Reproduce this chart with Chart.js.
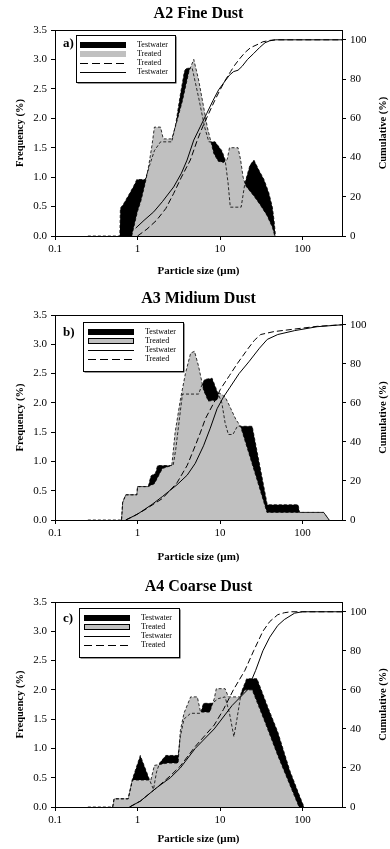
<!DOCTYPE html>
<html>
<head>
<meta charset="utf-8">
<script src="https://cdn.jsdelivr.net/npm/chart.js@4.4.1/dist/chart.umd.min.js"></script>
<style>
  body { margin: 0; background: #fff; }
  .panel { position: absolute; left: 0; width: 390px; }
</style>
</head>
<body>
<div class="panel" style="top:0;height:285px"><canvas id="chartA" width="390" height="285"></canvas></div>
<div class="panel" style="top:285px;height:287px"><canvas id="chartB" width="390" height="287"></canvas></div>
<div class="panel" style="top:572px;height:277px"><canvas id="chartC" width="390" height="277"></canvas></div>
<script>
// tick values
const sizeTicks = [0.1, 1, 10, 100];
const freqTicks = [0, 0.5, 1, 1.5, 2, 2.5, 3, 3.5];
const cumTicks = [0, 20, 40, 60, 80, 100];

// A2 fine dust  [particle size (µm), %]
const a2FreqTestwater = [[0.25,0],[0.61,0],[0.62,0.47],[0.68,0.55],[0.8,0.72],[0.9,0.85],[0.98,0.96],[1.24,0.96],[1.4,1.2],[1.6,1.45],[1.9,1.6],[2.6,1.6],[2.9,1.9],[3.3,2.4],[3.7,2.8],[3.9,2.85],[4.6,2.85],[5.5,2.35],[6.5,1.85],[7.3,1.6],[8.7,1.6],[10.5,1.45],[11.5,1.3],[12.5,0.9],[13.3,0.49],[18,0.49],[20,0.9],[23,1.2],[25.7,1.29],[29.5,1.12],[34,0.96],[39,0.73],[43,0.49],[45,0.27],[47,0]];
const a2FreqTreated = [[0.85,0],[0.9,0.15],[1.0,0.42],[1.1,0.6],[1.24,0.9],[1.35,1.15],[1.5,1.55],[1.6,1.85],[1.9,1.85],[2.05,1.65],[2.6,1.65],[3.0,1.95],[3.5,2.3],[4.2,2.8],[4.8,3.0],[5.5,2.65],[6.3,2.2],[7.0,1.85],[8.4,1.4],[9.5,1.27],[11,1.25],[12.2,1.3],[13,1.5],[16.5,1.5],[17.7,1.3],[19,1.0],[20.5,0.85],[25.7,0.68],[31,0.52],[37,0.35],[43,0.15],[46,0]];
const a2CumTestwater = [[0.95,4],[1.2,8],[1.57,12.3],[2,17.5],[2.74,25],[3.4,32],[3.98,38.7],[4.8,48.9],[5.8,56],[6.9,62.5],[8.2,69],[9.6,74.5],[11.5,79],[13,82],[14.6,83.8],[16.5,84.5],[18.5,86.5],[21.5,90],[25.5,93],[30,96],[35,98.5],[40,99.5],[47,100],[300,100]];
const a2CumTreated = [[1.0,0],[1.3,3.5],[1.7,8],[2.2,14],[2.74,21.7],[3.4,30],[4.36,38.7],[5.3,48.9],[6.2,56],[7.3,62.5],[8.6,69],[10,74.5],[11.6,79.5],[13.4,83.8],[15,87],[17,90],[20,93.5],[23.4,96],[28,97.5],[33,99],[40,99.7],[47,100],[300,100]];

// A3 medium dust
const a3FreqTestwater = [[0.25,0],[0.64,0],[0.66,0.3],[0.72,0.43],[0.98,0.43],[1.0,0.57],[1.35,0.57],[1.45,0.75],[1.65,0.8],[1.75,0.93],[2.7,0.93],[2.9,1.2],[3.2,1.7],[3.5,2.15],[5.5,2.15],[6.0,2.3],[6.5,2.4],[8,2.42],[9.2,2.2],[10.5,2.0],[11.5,1.66],[12.6,1.46],[14.3,1.46],[16.2,1.6],[24.5,1.6],[29.6,1.0],[37.3,0.26],[88,0.26],[92,0.13],[180,0.13],[210,0]];
const a3FreqTreated = [[0.64,0],[0.66,0.3],[0.72,0.43],[0.98,0.43],[1.0,0.57],[1.35,0.57],[1.6,0.62],[2.0,0.88],[2.6,0.93],[2.85,1.49],[3.3,2.05],[3.8,2.5],[4.4,2.85],[4.9,2.88],[5.5,2.62],[6.3,2.22],[7.2,2.03],[9.2,2.05],[9.8,2.17],[11.5,2.1],[12.5,2.0],[13.5,1.9],[15.5,1.72],[17.7,1.6],[22,1.17],[28,0.69],[37,0.13],[180,0.13],[210,0]];
const a3CumTestwater = [[0.72,0],[1.0,3],[1.5,8],[2,12],[3,18],[4,23],[5,29],[6.3,38],[7.6,47],[9.2,57],[11,63],[13.2,68],[17,75],[22.3,81],[30,88],[37.3,92.5],[50,95],[80,97],[150,99],[300,100]];
const a3CumTreated = [[0.72,0],[0.9,2],[1.2,5],[2,11],[3,19],[4,28],[5,38],[5.8,45],[6.66,52],[8.4,60],[10.1,67],[13,74],[16.1,80],[22,88],[26,92],[31,95],[45,96.5],[80,97.8],[150,99.2],[300,100]];

// A4 coarse dust
const a4FreqTestwater = [[0.25,0],[0.5,0],[0.52,0.14],[0.77,0.14],[0.86,0.46],[1.08,0.88],[1.4,0.46],[1.56,0.3],[1.7,0.6],[1.85,0.75],[2.2,0.88],[3.1,0.88],[3.3,1.2],[3.65,1.5],[4.4,1.6],[5.8,1.6],[6.3,1.77],[8,1.77],[9.5,1.85],[11.5,1.88],[13,1.6],[14.7,1.2],[16,1.5],[18,1.95],[21,2.19],[28,2.19],[38,1.7],[50,1.28],[70,0.62],[90,0.22],[104,0]];
const a4FreqTreated = [[0.5,0],[0.52,0.14],[0.77,0.14],[0.87,0.46],[1.45,0.46],[1.6,0.71],[2.3,0.75],[3.1,0.75],[3.3,1.3],[3.65,1.6],[4.4,1.88],[5.3,1.88],[5.8,1.62],[7.5,1.62],[8.5,1.85],[9,2.02],[11.5,2.02],[12.6,1.88],[17.7,1.88],[20,2.0],[24.5,2.0],[35,1.45],[50,0.88],[70,0.38],[90.5,0]];
const a4CumTestwater = [[0.8,0],[1.08,3],[1.72,10],[2.5,15],[3.3,20],[5,30],[8.5,40],[14,52],[21.5,60],[27,70],[33,80],[40,87],[50,93],[60,96],[80,99.3],[100,100],[300,100]];
const a4CumTreated = [[0.8,0],[1.08,3],[1.72,10],[2.5,16],[3.3,21],[5,31],[8.5,42],[11,50],[14.5,60],[20,70],[25.5,80],[33,90],[40,95],[50,98.5],[60,99.5],[72,100],[300,100]];

const SERIF = "'Liberation Serif', 'Times New Roman', serif";
const GRAY = "#c0c0c0";

const pts = (arr) => arr.map(([x, y]) => ({ x, y }));

// titles, labels and legend boxes drawn on top of the chart
const decor = {
  id: "decor",
  afterDraw(chart, args, o) {
    const { ctx, chartArea: a } = chart;
    ctx.save();
    ctx.strokeStyle = "#000";
    ctx.lineWidth = 1;
    // top frame line
    const ty = Math.round(a.top) + 0.5;
    ctx.beginPath();
    ctx.moveTo(a.left, ty);
    ctx.lineTo(a.right, ty);
    ctx.stroke();

    ctx.fillStyle = "#000";
    ctx.textAlign = "center";
    ctx.textBaseline = "middle";
    ctx.font = `bold 16px ${SERIF}`;
    ctx.fillText(o.title, (a.left + a.right) / 2, o.titleY);

    ctx.font = `bold 11px ${SERIF}`;
    ctx.fillText("Particle size (µm)", (a.left + a.right) / 2, a.bottom + o.xTitleGap);

    ctx.font = `bold 10.5px ${SERIF}`;
    const midY = (a.top + a.bottom) / 2;
    ctx.save();
    ctx.translate(20, midY);
    ctx.rotate(-Math.PI / 2);
    ctx.fillText("Frequency (%)", 0, 0);
    ctx.restore();
    ctx.save();
    ctx.translate(383, midY);
    ctx.rotate(-Math.PI / 2);
    ctx.fillText("Cumulative (%)", 0, 0);
    ctx.restore();

    // panel letter
    ctx.textAlign = "left";
    ctx.font = `bold 13px ${SERIF}`;
    ctx.fillText(o.letter, 63, o.letterY);

    // legend
    const lg = o.legend;
    ctx.fillStyle = "#333";
    ctx.fillRect(lg.x + 1.5, lg.y + 1.5, lg.w, lg.h);
    ctx.fillStyle = "#fff";
    ctx.fillRect(lg.x, lg.y, lg.w, lg.h);
    ctx.strokeRect(lg.x + 0.5, lg.y + 0.5, lg.w, lg.h);
    ctx.font = `8px ${SERIF}`;
    lg.items.forEach((it, i) => {
      const y = lg.y + 10 + i * 9;
      const sx = lg.x + lg.sx, sw = 46;
      if (it.kind === "fill") {
        ctx.fillStyle = it.color;
        ctx.fillRect(sx, y - 3, sw, 6);
        if (it.edge) {
          ctx.strokeStyle = "#000";
          ctx.strokeRect(sx + 0.5, y - 2.5, sw - 1, 5);
        }
      } else {
        ctx.strokeStyle = "#000";
        ctx.setLineDash(it.kind === "dash" ? [8, 4] : []);
        ctx.beginPath();
        ctx.moveTo(sx, y + 0.5);
        ctx.lineTo(sx + sw, y + 0.5);
        ctx.stroke();
        ctx.setLineDash([]);
      }
      ctx.fillStyle = "#000";
      ctx.fillText(it.text, lg.x + lg.tx, y);
    });
    ctx.restore();
  },
};

function makeChart(id, p) {
  const tickFont = { family: SERIF, size: 11 };
  const axisGrid = { drawOnChartArea: false, drawTicks: true, tickLength: 4, color: "#000" };
  const axisBorder = { display: true, color: "#000", width: 1 };
  return new Chart(document.getElementById(id), {
    type: "line",
    data: {
      datasets: [
        { label: "Testwater", data: pts(p.freqTest), yAxisID: "y", fill: "origin",
          backgroundColor: "#000", borderWidth: 0, pointRadius: 0, order: 5 },
        { label: "Treated", data: pts(p.freqTreat), yAxisID: "y", fill: "origin",
          backgroundColor: GRAY, borderColor: "#000", borderWidth: 0.8, borderDash: [3, 2],
          pointRadius: 0, order: 4 },
        { label: "Testwater", data: pts(p.freqTest), yAxisID: "y", fill: false,
          borderColor: "#000", borderWidth: 0.8, borderDash: [3, 2], pointRadius: 0, order: 3 },
        { label: "Testwater", data: pts(p.cumTest), yAxisID: "y1", fill: false,
          borderColor: "#000", borderWidth: 1, pointRadius: 0, order: 2 },
        { label: "Treated", data: pts(p.cumTreat), yAxisID: "y1", fill: false,
          borderColor: "#000", borderWidth: 1, borderDash: [6, 3], pointRadius: 0, order: 1 },
      ],
    },
    options: {
      responsive: false,
      animation: false,
      layout: { padding: { top: 30, left: 0, right: 0, bottom: 0 } },
      plugins: { legend: { display: false }, tooltip: { enabled: false }, decor: p.decor },
      scales: {
        x: {
          type: "logarithmic", min: 0.1, max: 300,
          afterBuildTicks: (s) => { s.ticks = sizeTicks.map((v) => ({ value: v })); },
          afterFit: (s) => { s.height = p.xHeight; },
          ticks: { callback: (v) => String(v), font: tickFont, color: "#000", padding: 3,
                   maxRotation: 0, autoSkip: false },
          grid: axisGrid, border: axisBorder,
        },
        y: {
          position: "left", min: 0, max: 3.5,
          afterBuildTicks: (s) => { s.ticks = freqTicks.map((v) => ({ value: v })); },
          afterFit: (s) => { s.width = 55; },
          ticks: { callback: (v) => v.toFixed(1), font: tickFont, color: "#000", padding: 4 },
          grid: axisGrid, border: axisBorder,
        },
        y1: {
          position: "right", min: 0, max: 105,
          afterBuildTicks: (s) => { s.ticks = cumTicks.map((v) => ({ value: v })); },
          afterFit: (s) => { s.width = 48; },
          ticks: { callback: (v) => String(v), font: tickFont, color: "#000", padding: 4 },
          grid: axisGrid, border: axisBorder,
        },
      },
    },
    plugins: [decor],
  });
}

makeChart("chartA", {
  freqTest: a2FreqTestwater, freqTreat: a2FreqTreated,
  cumTest: a2CumTestwater, cumTreat: a2CumTreated, xHeight: 49,
  decor: {
    title: "A2 Fine Dust", titleY: 14, xTitleGap: 35, letter: "a)", letterY: 44,
    legend: { x: 76, y: 35, w: 99, h: 47, sx: 4, tx: 61, items: [
      { text: "Testwater", kind: "fill", color: "#000" },
      { text: "Treated", kind: "fill", color: GRAY },
      { text: "Treated", kind: "dash" },
      { text: "Testwater", kind: "line" },
    ] },
  },
});

makeChart("chartB", {
  freqTest: a3FreqTestwater, freqTreat: a3FreqTreated,
  cumTest: a3CumTestwater, cumTreat: a3CumTreated, xHeight: 52,
  decor: {
    title: "A3 Midium Dust", titleY: 14, xTitleGap: 37, letter: "b)", letterY: 48,
    legend: { x: 83, y: 37, w: 100, h: 49, sx: 5, tx: 62, items: [
      { text: "Testwater", kind: "fill", color: "#000" },
      { text: "Treated", kind: "fill", color: GRAY, edge: true },
      { text: "Testwater", kind: "line" },
      { text: "Treated", kind: "dash" },
    ] },
  },
});

makeChart("chartC", {
  freqTest: a4FreqTestwater, freqTreat: a4FreqTreated,
  cumTest: a4CumTestwater, cumTreat: a4CumTreated, xHeight: 42,
  decor: {
    title: "A4 Coarse Dust", titleY: 15, xTitleGap: 32.5, letter: "c)", letterY: 47,
    legend: { x: 79, y: 36, w: 100, h: 49, sx: 5, tx: 62, items: [
      { text: "Testwater", kind: "fill", color: "#000" },
      { text: "Treated", kind: "fill", color: GRAY, edge: true },
      { text: "Testwater", kind: "line" },
      { text: "Treated", kind: "dash" },
    ] },
  },
});
</script>
</body>
</html>
